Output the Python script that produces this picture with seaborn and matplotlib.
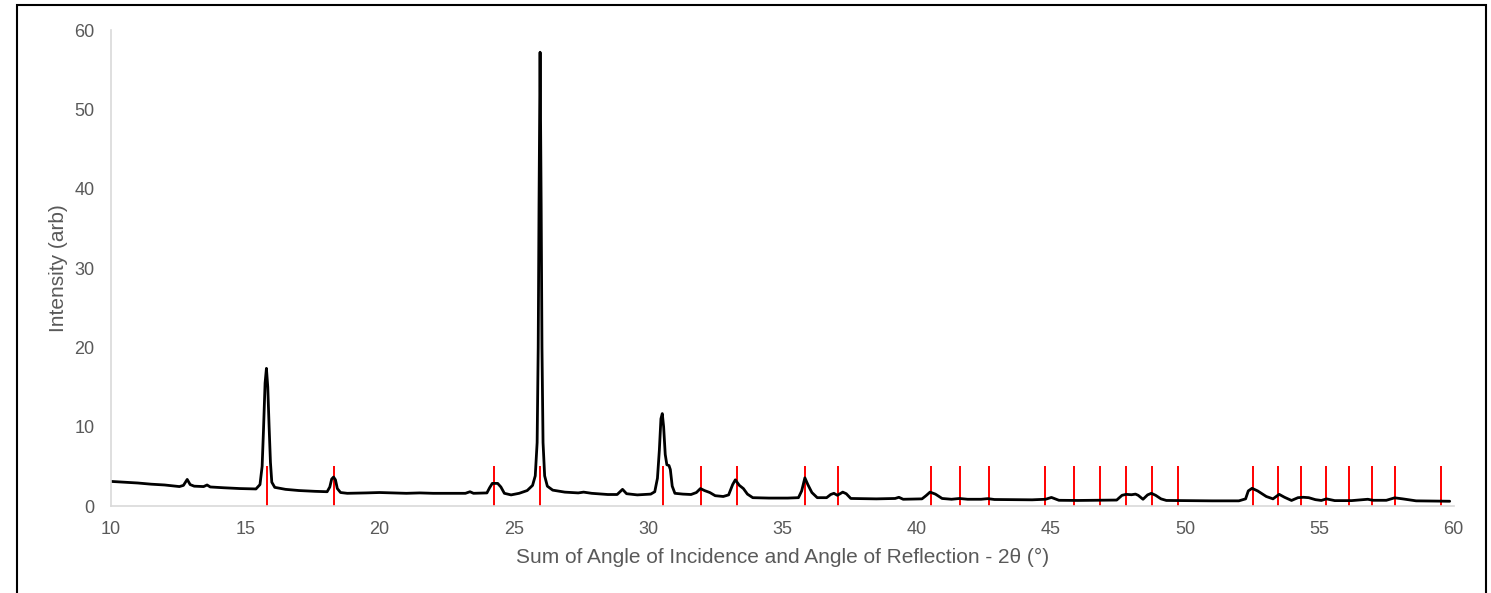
import numpy as np
import pandas as pd
import seaborn as sns
import matplotlib.pyplot as plt
from matplotlib.patches import Rectangle

# XRD pattern (2theta in degrees, intensity arb)
two_theta = [10.00, 10.50, 11.00, 11.50, 12.00, 12.55, 12.70, 12.84, 12.95, 13.10,
             13.45, 13.58, 13.70, 14.20, 14.80, 15.40, 15.55, 15.63, 15.68, 15.74,
             15.79, 15.84, 15.89, 15.94, 15.99, 16.10, 16.50, 17.00, 17.60, 18.05,
             18.15, 18.22, 18.29, 18.36, 18.43, 18.55, 18.80, 19.50, 20.00, 20.50,
             21.00, 21.50, 22.00, 22.50, 23.20, 23.37, 23.50, 24.00, 24.10, 24.20,
             24.40, 24.52, 24.65, 24.90, 25.20, 25.50, 25.70, 25.80, 25.87, 25.91,
             25.94, 25.98, 26.02, 26.05, 26.09, 26.15, 26.25, 26.45, 26.90, 27.40,
             27.60, 27.90, 28.50, 28.85, 29.05, 29.20, 29.60, 30.10, 30.25, 30.35,
             30.42, 30.48, 30.53, 30.58, 30.64, 30.70, 30.78, 30.83, 30.90, 31.00,
             31.30, 31.60, 31.80, 31.95, 32.10, 32.30, 32.50, 32.80, 33.00, 33.15,
             33.25, 33.40, 33.55, 33.70, 33.90, 34.50, 35.20, 35.60, 35.72, 35.84,
             35.95, 36.10, 36.30, 36.65, 36.80, 36.92, 37.05, 37.25, 37.38, 37.55,
             38.50, 39.20, 39.34, 39.50, 40.20, 40.35, 40.50, 40.70, 40.95, 41.30,
             41.60, 41.90, 42.40, 42.65, 42.90, 43.50, 44.30, 44.80, 45.02, 45.30,
             46.00, 46.80, 47.45, 47.65, 47.80, 48.00, 48.15, 48.25, 48.43, 48.60,
             48.74, 48.90, 49.10, 49.30, 50.00, 51.00, 52.00, 52.25, 52.35, 52.49,
             52.70, 53.02, 53.27, 53.50, 53.70, 53.96, 54.20, 54.40, 54.60, 54.85,
             55.07, 55.26, 55.57, 56.20, 56.80, 57.00, 57.49, 57.80, 58.10, 58.60,
             59.20, 59.85]
intensity = [3.10, 3.00, 2.90, 2.75, 2.65, 2.45, 2.60, 3.35, 2.70, 2.50,
             2.45, 2.65, 2.40, 2.30, 2.20, 2.15, 2.70, 5.00, 9.50, 15.50,
             17.35, 15.00, 10.00, 5.50, 3.00, 2.35, 2.10, 1.95, 1.85, 1.80,
             2.40, 3.40, 3.65, 3.30, 2.20, 1.70, 1.60, 1.65, 1.70, 1.65,
             1.60, 1.65, 1.60, 1.60, 1.60, 1.80, 1.60, 1.65, 2.30, 2.85,
             2.85, 2.40, 1.60, 1.40, 1.60, 1.95, 2.60, 3.80, 8.00, 20.00,
             38.00, 57.20, 38.00, 20.00, 8.00, 3.80, 2.50, 2.00, 1.75, 1.65,
             1.75, 1.60, 1.45, 1.45, 2.10, 1.55, 1.40, 1.50, 1.80, 3.50,
             7.00, 11.00, 11.65, 10.00, 6.50, 5.20, 5.10, 4.60, 2.50, 1.60,
             1.50, 1.45, 1.70, 2.20, 1.95, 1.70, 1.30, 1.20, 1.40, 2.70,
             3.30, 2.60, 2.20, 1.50, 1.05, 1.00, 1.00, 1.05, 1.90, 3.55,
             2.70, 1.70, 1.05, 1.05, 1.45, 1.60, 1.35, 1.75, 1.55, 0.95,
             0.90, 0.95, 1.10, 0.85, 0.90, 1.30, 1.75, 1.50, 0.95, 0.85,
             0.95, 0.85, 0.85, 0.93, 0.82, 0.80, 0.78, 0.85, 1.08, 0.72,
             0.70, 0.72, 0.75, 1.35, 1.47, 1.42, 1.50, 1.35, 0.85, 1.40,
             1.60, 1.35, 0.90, 0.70, 0.68, 0.65, 0.65, 0.90, 1.90, 2.23,
             1.90, 1.20, 0.90, 1.47, 1.10, 0.70, 1.05, 1.10, 1.05, 0.80,
             0.70, 0.90, 0.68, 0.68, 0.85, 0.72, 0.72, 1.03, 0.90, 0.65,
             0.62, 0.60]

# reference peak positions (red markers)
ref_peaks = [15.81, 18.30, 24.26, 25.97, 30.55, 31.97, 33.31, 35.84, 37.07, 40.53,
             41.61, 42.69, 44.77, 45.85, 46.82, 47.79, 48.76, 49.72, 52.52, 53.45,
             54.30, 55.23, 56.09, 56.95, 57.80, 59.52]
ref_height = 5

df = pd.DataFrame({'two_theta': two_theta, 'intensity': intensity})

sns.set_style('white')
plt.rcParams['font.family'] = ['Liberation Sans', 'DejaVu Sans']

fig = plt.figure(figsize=(14.91, 5.93), dpi=100)
ax = fig.add_axes([0.0744, 0.1467, 0.9006, 0.8027])

ax.vlines(ref_peaks, 0, ref_height, color='#ff0000', lw=1.4, zorder=1)
sns.lineplot(data=df, x='two_theta', y='intensity', color='black', lw=2.0,
             estimator=None, sort=False, ax=ax, zorder=2)

ax.set_xlim(10, 60)
ax.set_ylim(0, 60)
ax.set_xticks(np.arange(10, 61, 5))
ax.set_yticks(np.arange(0, 61, 10))
ax.tick_params(length=0, labelsize=13, colors='#595959')
ax.tick_params(axis='y', pad=12)
ax.tick_params(axis='x', pad=11)
sns.despine(ax=ax)
for s in ['left', 'bottom']:
    ax.spines[s].set_color('#d9d9d9')
    ax.spines[s].set_linewidth(1.2)

ax.set_xlabel('Sum of Angle of Incidence and Angle of Reflection - 2θ (°)',
              fontsize=15, color='#595959', labelpad=7)
ax.set_ylabel('Intensity (arb)', fontsize=15, color='#595959', labelpad=4)

# outer frame
fig.patches.append(Rectangle((17 / 1491, -0.02), (1486 - 17) / 1491, 1 - 5 / 593 + 0.02,
                             transform=fig.transFigure, fill=False,
                             edgecolor='black', lw=1.5))

fig.savefig('out.png', dpi=100)
